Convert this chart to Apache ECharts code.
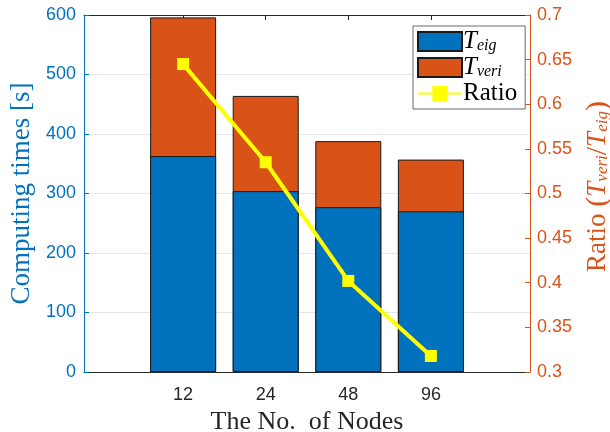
<!DOCTYPE html>
<html>
<head>
<meta charset="utf-8">
<script src="https://cdn.jsdelivr.net/npm/echarts@6/dist/echarts.min.js"></script>
<style>html,body{margin:0;padding:0;background:#fff}#c{width:610px;height:432px}</style>
</head>
<body>
<div id="c"></div>
<script>
const nodes = ['12', '24', '48', '96'];
const teig = [363, 304, 277, 270];
const tveri = [233, 160, 111, 87];
const ratio = [0.645, 0.535, 0.402, 0.318];

const SERIF = '"Liberation Serif", "DejaVu Serif", serif';
const SANS = '"Liberation Sans", Arial, sans-serif';
const idx = nodes.map((_, i) => i);
const totals = teig.map((v, i) => v + tveri[i]);

const chart = echarts.init(document.getElementById('c'));
chart.setOption({
  animation: false,
  grid: { left: 84, right: 80, top: 15, bottom: 60, containLabel: false, outerBoundsMode: 'none' },
  legend: {
    orient: 'vertical', left: 413, top: 26,
    backgroundColor: '#fff', borderColor: '#6a6a6a', borderWidth: 1, borderRadius: 0,
    padding: [3, 8, 3, 4], itemWidth: 44, itemHeight: 19, itemGap: 1,
    data: [{ name: 'Teig', icon: 'rect' }, { name: 'Tveri', icon: 'rect' }, { name: 'Ratio' }],
    formatter: function (n) {
      if (n === 'Teig') return '{t|T}{s|eig}';
      if (n === 'Tveri') return '{t|T}{s|veri}';
      return '{r|Ratio}';
    },
    textStyle: {
      padding: [0, 0, 0, -4],
      rich: {
        t: { fontFamily: SERIF, fontStyle: 'italic', fontSize: 25, lineHeight: 22, color: '#000' },
        s: { fontFamily: SERIF, fontStyle: 'italic', fontSize: 16, lineHeight: 14, color: '#000', padding: [8, 0, 0, 0] },
        r: { fontFamily: SERIF, fontSize: 25, lineHeight: 22, color: '#000' }
      }
    }
  },
  xAxis: [{
    type: 'value', min: -1.2, max: 4.2, position: 'bottom',
    axisLine: { show: true, onZero: false, lineStyle: { color: '#262626', width: 1 } },
    axisTick: { show: true, inside: true, length: 5, customValues: idx, lineStyle: { color: '#262626' } },
    axisLabel: { customValues: idx, formatter: v => nodes[Math.round(v)], color: '#262626', fontSize: 18, fontFamily: SANS, margin: 14 },
    splitLine: { show: false },
    name: 'The No.  of Nodes', nameLocation: 'middle', nameGap: 31,
    nameTextStyle: { fontFamily: SERIF, fontSize: 26, color: '#262626' }
  }, {
    type: 'value', min: -1.2, max: 4.2, position: 'top',
    axisLine: { show: true, onZero: false, lineStyle: { color: '#262626', width: 1 } },
    axisTick: { show: true, inside: true, length: 5, customValues: idx, lineStyle: { color: '#262626' } },
    axisLabel: { show: false },
    splitLine: { show: false }
  }],
  yAxis: [{
    type: 'value', min: 0, max: 600, interval: 100, position: 'left',
    axisLine: { show: true, onZero: false, lineStyle: { color: '#0072BD', width: 1 } },
    axisTick: { show: true, inside: true, length: 5, lineStyle: { color: '#0072BD' } },
    axisLabel: { color: '#0072BD', fontSize: 18, fontFamily: SANS, margin: 8 },
    splitLine: { show: true, lineStyle: { color: '#e6e6e6', width: 1 } },
    name: 'Computing times [s]', nameLocation: 'middle', nameGap: 49, nameRotate: 90,
    nameTextStyle: { fontFamily: SERIF, fontSize: 27, color: '#0072BD' }
  }, {
    type: 'value', min: 0.3, max: 0.7, interval: 0.05, position: 'right',
    axisLine: { show: true, onZero: false, lineStyle: { color: '#D95319', width: 1 } },
    axisTick: { show: true, inside: true, length: 5, lineStyle: { color: '#D95319' } },
    axisLabel: { color: '#D95319', fontSize: 18, fontFamily: SANS, margin: 7, formatter: v => String(+v.toFixed(2)) },
    splitLine: { show: false },
    name: '{r|Ratio }{p|(}{t|T}{s|veri}{p|/}{t|T}{s|eig}{p|)}', nameLocation: 'middle', nameGap: 52, nameRotate: 90,
    nameTextStyle: {
      color: '#D95319',
      padding: [0, 0, 0, 14],
      rich: {
        r: { fontFamily: SERIF, fontSize: 27, color: '#D95319' },
        p: { fontFamily: SERIF, fontSize: 30, color: '#D95319' },
        t: { fontFamily: SERIF, fontStyle: 'italic', fontSize: 27, color: '#D95319' },
        s: { fontFamily: SERIF, fontStyle: 'italic', fontSize: 17, color: '#D95319', padding: [10, 0, 0, 0] }
      }
    }
  }],
  series: [{
    name: 'Tveri', type: 'bar', xAxisIndex: 0, yAxisIndex: 0,
    barWidth: 66, barGap: '-100%',
    data: totals.map((v, i) => [i, v]),
    itemStyle: { color: '#D95319', borderColor: '#1a1a1a', borderWidth: 1 },
    z: 2
  }, {
    name: 'Teig', type: 'bar', xAxisIndex: 0, yAxisIndex: 0,
    barWidth: 66, barGap: '-100%',
    data: teig.map((v, i) => [i, v]),
    itemStyle: { color: '#0072BD', borderColor: '#1a1a1a', borderWidth: 1 },
    z: 3
  }, {
    name: 'Ratio', type: 'line', xAxisIndex: 0, yAxisIndex: 1,
    data: ratio.map((v, i) => [i, v]),
    symbol: 'rect', symbolSize: 12,
    lineStyle: { color: '#FFFF00', width: 4 },
    itemStyle: { color: '#FFFF00' },
    z: 5
  }]
});
</script>
</body>
</html>
